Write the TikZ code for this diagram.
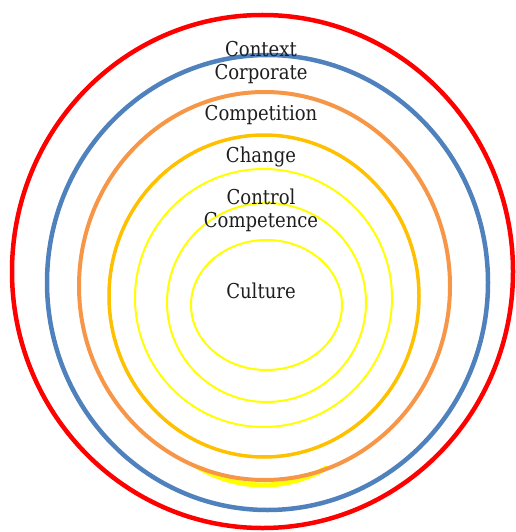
\documentclass[tikz,border=0pt]{standalone}
\usepackage{fontspec}
\setmainfont{DejaVu Serif}[FakeStretch=0.88]
\definecolor{cred}{HTML}{FF0000}
\definecolor{cblue}{HTML}{4F81BD}
\definecolor{corange}{HTML}{F79646}
\definecolor{cgold}{HTML}{FFC000}
\definecolor{cyellow}{HTML}{FFFF00}
\definecolor{ctext}{HTML}{1E1E1E}
\tikzset{
  ring/.style={line width=#1},
  lbl/.style={font=\fontsize{20.5}{24}\selectfont, text=ctext, inner sep=0pt}
}
\begin{document}
\begin{tikzpicture}[x=1pt,y=-1pt]
\useasboundingbox (0,0) rectangle (515,532);
% hidden yellow crescent at the bottom
\begin{scope}
  \clip (150,466) rectangle (380,500);
  \draw[cyellow, line width=5pt] (263,300) ellipse [x radius=151, y radius=185];
\end{scope}
\draw[cred, ring=4.5pt] (262.5,271.5) ellipse [x radius=250.5, y radius=256.5];
\draw[cblue, ring=4.5pt] (267.5,282.5) ellipse [x radius=220.5, y radius=227.5];
\draw[corange, ring=4pt] (264.5,286) ellipse [x radius=185.5, y radius=194];
\draw[cgold, ring=3.5pt] (264,296) ellipse [x radius=155, y radius=161];
\draw[cyellow, ring=2pt] (263.5,298) ellipse [x radius=128.5, y radius=129];
\draw[cyellow, ring=2pt] (266.5,302.5) ellipse [x radius=99.5, y radius=99.5];
\draw[cyellow, ring=2pt] (266.5,305) ellipse [x radius=75.5, y radius=65];
\node[lbl] (context) at (261,49) {Context};
\node[lbl] (corporate) at (261,74) {Corporate};
\node[lbl] (competition) at (261,115) {Competition};
\node[lbl] (change) at (261,157) {Change};
\node[lbl] (control) at (261,197) {Control};
\node[lbl] (competence) at (261,222) {Competence};
\node[lbl] (culture) at (261,291) {Culture};
\end{tikzpicture}
\end{document}
